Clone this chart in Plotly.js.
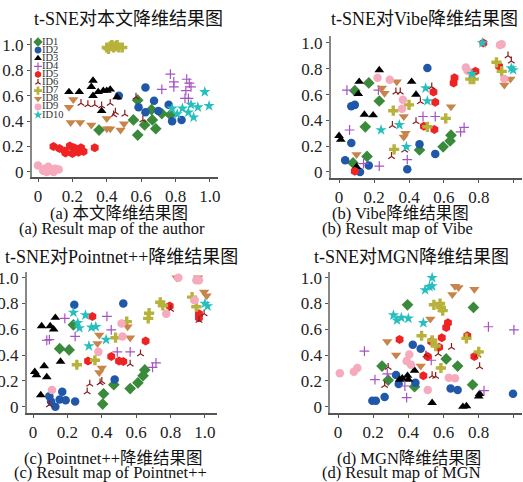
<!DOCTYPE html>
<html><head><meta charset="utf-8">
<script src="https://cdn.plot.ly/plotly-3.0.1.min.js"></script>
<style>html,body{margin:0;padding:0;background:#fff}</style>
</head><body><div id="chart" style="width:523px;height:482px"></div>
<script>
// ---------- categories / labels ----------
const ids = ["ID1","ID2","ID3","ID4","ID5","ID6","ID7","ID8","ID9","ID10"];
const tickVals = [0, 0.2, 0.4, 0.6, 0.8, 1.0];
const tickText = ["0", "0.2", "0.4", "0.6", "0.8", "1.0"];
const panelTitles = ["t-SNE对本文降维结果图", "t-SNE对Vibe降维结果图", "t-SNE对Pointnet++降维结果图", "t-SNE对MGN降维结果图"];
const captionsCN = ["(a) 本文降维结果图", "(b) Vibe降维结果图", "(c) Pointnet++降维结果图", "(d) MGN降维结果图"];
const captionsEN = ["(a) Result map of the author", "(b) Result map of Vibe", "(c) Result map of Pointnet++", "(d) Result map of MGN"];

// ---------- (a) 本文 ----------
const A_ID1 = [[0.355,0.33],[0.555,0.41],[0.58,0.565],[0.58,0.29],[0.62,0.37],[0.66,0.49],[0.665,0.41],[0.685,0.34],[0.72,0.46],[0.77,0.45]];
const A_ID2 = [[0.47,0.60],[0.625,0.665],[0.585,0.51],[0.625,0.47],[0.675,0.56],[0.70,0.48],[0.76,0.53],[0.78,0.40],[0.835,0.41]];
const A_ID3 = [[0.18,0.63],[0.24,0.63],[0.31,0.67],[0.32,0.72],[0.32,0.60],[0.35,0.63],[0.38,0.64],[0.40,0.64],[0.42,0.65],[0.46,0.59],[0.37,0.48]];
const A_ID4 = [[0.77,0.77],[0.72,0.65],[0.79,0.71],[0.79,0.67],[0.865,0.73],[0.88,0.70],[0.89,0.67],[0.86,0.64],[0.875,0.58],[0.855,0.58]];
const A_ID5 = [[0.09,0.20],[0.125,0.185],[0.155,0.165],[0.185,0.205],[0.21,0.19],[0.20,0.145],[0.16,0.15],[0.25,0.19],[0.265,0.16],[0.33,0.19],[0.235,0.155]];
const A_ID6 = [[0.25,0.54],[0.29,0.53],[0.33,0.53],[0.37,0.52],[0.42,0.54],[0.44,0.45],[0.45,0.47],[0.505,0.455],[0.57,0.59],[0.61,0.41]];
const A_ID7 = [[0.40,0.98],[0.42,0.99],[0.43,1.0],[0.44,0.98],[0.45,0.99],[0.47,0.98],[0.49,0.98],[0.41,0.97],[0.46,1.0]];
const A_ID8 = [[0.18,0.51],[0.205,0.57],[0.19,0.39],[0.245,0.39],[0.31,0.37],[0.40,0.42],[0.40,0.34],[0.42,0.34],[0.48,0.33],[0.50,0.38]];
const A_ID9 = [[0.0,0.05],[0.04,0.025],[0.06,0.04],[0.08,0.02],[0.10,0.025],[0.12,0.02],[0.05,0.0],[0.09,0.0],[0.03,0.01],[0.07,0.01]];
const A_ID10 = [[0.78,0.50],[0.81,0.455],[0.84,0.50],[0.89,0.53],[0.875,0.47],[0.905,0.43],[0.93,0.51],[0.97,0.63],[0.995,0.52]];

// ---------- (b) Vibe ----------
const B_ID1 = [[0.09,0.63],[0.17,0.69],[0.23,0.55],[0.15,0.35],[0.16,0.12],[0.08,0.07],[0.46,0.17],[0.595,0.195],[0.635,0.24],[0.64,0.285]];
const B_ID2 = [[0.505,0.805],[0.07,0.51],[0.09,0.52],[0.07,0.225],[0.035,0.09],[0.17,0.05],[0.12,0.0],[0.46,0.215],[0.55,0.14],[0.39,0.02]];
const B_ID3 = [[0.23,0.79],[0.115,0.70],[0.11,0.605],[0.145,0.445],[0.195,0.44],[0.415,0.70],[0.44,0.60],[0.0,0.28],[0.01,0.25],[0.10,0.04]];
const B_ID4 = [[0.045,0.635],[0.225,0.635],[0.06,0.325],[0.48,0.43],[0.55,0.43],[0.695,0.31],[0.715,0.345],[0.39,0.095],[0.23,0.045],[0.14,0.065]];
const B_ID5 = [[0.825,1.0],[0.915,0.82],[0.78,0.78],[0.66,0.73],[0.655,0.69],[0.54,0.62],[0.55,0.54],[0.485,0.355],[0.545,0.33],[0.09,0.005]];
const B_ID6 = [[0.966,0.90],[0.985,0.86],[0.53,0.66],[0.325,0.62],[0.35,0.62],[0.465,0.545],[0.44,0.39],[0.305,0.36],[0.375,0.17],[0.30,0.12]];
const B_ID7 = [[0.90,0.85],[0.93,0.78],[0.75,0.72],[0.77,0.72],[0.61,0.415],[0.505,0.35],[0.40,0.52],[0.31,0.475],[0.315,0.175]];
const B_ID8 = [[0.945,0.675],[0.98,0.72],[0.64,0.505],[0.33,0.70],[0.245,0.65],[0.26,0.61],[0.37,0.43],[0.38,0.30],[0.37,0.27],[0.10,0.135]];
const B_ID9 = [[0.93,0.99],[0.92,0.985],[0.725,0.81],[0.735,0.785],[0.22,0.73],[0.29,0.715],[0.365,0.56],[0.36,0.49],[0.945,0.72]];
const B_ID10 = [[0.82,1.0],[0.76,0.76],[0.985,0.805],[0.995,0.79],[0.495,0.65],[0.505,0.55],[0.345,0.365],[0.24,0.325],[0.385,0.195]];

// ---------- (c) Pointnet++ ----------
const C_ID1 = [[0.235,0.635],[0.155,0.45],[0.21,0.44],[0.65,0.285],[0.64,0.24],[0.61,0.185],[0.565,0.14],[0.47,0.17],[0.41,0.10],[0.405,0.02]];
const C_ID2 = [[0.24,0.79],[0.525,0.80],[0.095,0.08],[0.105,0.04],[0.13,0.0],[0.155,0.055],[0.19,0.05],[0.17,0.115],[0.245,0.04],[0.475,0.21]];
const C_ID3 = [[0.01,0.27],[0.02,0.245],[0.065,0.315],[0.05,0.625],[0.10,0.625],[0.12,0.60],[0.13,0.69],[0.16,0.35],[0.08,0.23],[0.045,0.09]];
const C_ID4 = [[0.185,0.685],[0.245,0.545],[0.08,0.515],[0.095,0.52],[0.43,0.70],[0.455,0.595],[0.49,0.425],[0.565,0.425],[0.695,0.305],[0.715,0.34]];
const C_ID5 = [[0.345,0.70],[0.455,0.39],[0.50,0.355],[0.525,0.35],[0.32,0.355],[0.655,0.51],[0.795,0.78],[0.965,0.72],[0.965,0.69]];
const C_ID6 = [[0.625,0.41],[0.565,0.33],[0.39,0.185],[0.40,0.195],[0.33,0.175],[0.315,0.115],[0.095,0.015],[0.965,0.67],[0.995,0.72],[0.80,0.755]];
const C_ID7 = [[0.255,0.325],[0.36,0.36],[0.48,0.535],[0.545,0.66],[0.675,0.725],[0.67,0.685],[0.74,0.81],[0.755,0.785],[0.925,0.85],[0.95,0.775]];
const C_ID8 = [[0.385,0.555],[0.375,0.49],[0.55,0.62],[0.565,0.535],[0.40,0.30],[0.385,0.265],[0.835,1.0],[0.96,1.0],[0.995,0.89],[1.01,0.86]];
const C_ID9 = [[0.11,0.13],[0.38,0.425],[0.515,0.645],[0.52,0.545],[0.775,0.72],[0.845,1.0],[0.95,0.98],[0.965,0.98],[0.94,0.825]];
const C_ID10 = [[0.235,0.73],[0.26,0.65],[0.27,0.61],[0.305,0.71],[0.34,0.615],[0.365,0.62],[0.325,0.47],[0.425,0.52],[1.0,0.80],[1.015,0.78]];

// ---------- (d) MGN ----------
const D_ID1 = [[0.395,0.79],[0.77,0.77],[0.25,0.315],[0.285,0.205],[0.435,0.155],[0.615,0.37],[0.68,0.315],[0.765,0.17]];
const D_ID2 = [[0.195,0.045],[0.215,0.045],[0.265,0.075],[0.33,0.245],[0.345,0.175],[0.425,0.48],[0.47,0.45],[0.44,0.185],[0.64,0.14],[0.68,0.13],[0.995,0.10]];
const D_ID3 = [[0.365,0.22],[0.395,0.24],[0.40,0.21],[0.435,0.28],[0.535,0.03],[0.71,0.0],[0.73,0.005],[0.80,0.08],[0.805,0.10],[0.35,0.21]];
const D_ID4 = [[0.15,0.43],[0.21,0.21],[0.28,0.255],[0.38,0.16],[0.39,0.07],[0.53,0.36],[0.855,0.62],[1.0,0.595],[0.83,0.125]];
const D_ID5 = [[0.625,0.65],[0.615,0.615],[0.35,0.52],[0.59,0.535],[0.53,0.505],[0.575,0.46],[0.51,0.39],[0.485,0.24],[0.735,0.55],[0.775,0.39]];
const D_ID6 = [[0.645,0.46],[0.57,0.41],[0.805,0.31],[0.535,0.24],[0.555,0.235],[0.285,0.305],[0.265,0.165],[0.50,0.40],[0.795,0.40]];
const D_ID7 = [[0.545,0.79],[0.58,0.80],[0.585,0.77],[0.595,0.745],[0.475,0.55],[0.535,0.515],[0.555,0.47],[0.585,0.30],[0.73,0.53],[0.80,0.425]];
const D_ID8 = [[0.665,0.935],[0.685,0.925],[0.65,0.87],[0.775,0.91],[0.525,0.68],[0.28,0.505],[0.33,0.40],[0.47,0.315]];
const D_ID9 = [[0.01,0.26],[0.09,0.27],[0.11,0.30],[0.405,0.405],[0.39,0.355],[0.415,0.325],[0.51,0.13],[0.63,0.225],[0.665,0.22]];
const D_ID10 = [[0.535,1.0],[0.535,0.935],[0.52,0.93],[0.495,0.905],[0.315,0.71],[0.335,0.67],[0.36,0.69],[0.40,0.685],[0.485,0.65]];

// ---------- styles ----------
const symbols = ['diamond','circle','triangle-up','cross-thin','hexagon','y-up','cross','triangle-down','circle','star'];
const colors  = ['#3a8a3c','#2157a8','#000000','#a553c2','#ee2424','#8a1c1c','#b6b23c','#c7844b','#f6aabd','#27bebe'];
const sizes   = [9, 8.5, 8.5, 7, 9, 5.5, 8.5, 9, 8.5, 8.5];
const openSym = [false,false,false,true,false,true,false,false,false,false];

const panels = [
  {sets:[A_ID1,A_ID2,A_ID3,A_ID4,A_ID5,A_ID6,A_ID7,A_ID8,A_ID9,A_ID10], xa:'x',  ya:'y'},
  {sets:[B_ID1,B_ID2,B_ID3,B_ID4,B_ID5,B_ID6,B_ID7,B_ID8,B_ID9,B_ID10], xa:'x2', ya:'y2'},
  {sets:[C_ID1,C_ID2,C_ID3,C_ID4,C_ID5,C_ID6,C_ID7,C_ID8,C_ID9,C_ID10], xa:'x3', ya:'y3'},
  {sets:[D_ID1,D_ID2,D_ID3,D_ID4,D_ID5,D_ID6,D_ID7,D_ID8,D_ID9,D_ID10], xa:'x4', ya:'y4'}
];

function markerFor(i, scale){
  const s = sizes[i] * (scale || 1);
  return openSym[i]
    ? {symbol:symbols[i], size:s, color:colors[i], line:{color:colors[i], width:1.2}}
    : {symbol:symbols[i], size:s, color:colors[i], line:{width:0}};
}

const traces = [];
panels.forEach(p => {
  p.sets.forEach((pts, i) => {
    traces.push({
      type:'scatter', mode:'markers', name:ids[i], xaxis:p.xa, yaxis:p.ya,
      x: pts.map(d=>d[0]), y: pts.map(d=>d[1]),
      marker: markerFor(i), hoverinfo:'skip', cliponaxis:false
    });
  });
});

// compact legend drawn inside panel (a)
ids.forEach((name, i) => {
  traces.push({
    type:'scatter', mode:'markers', xaxis:'x5', yaxis:'y5',
    x:[0], y:[i], marker: markerFor(i, 0.8), hoverinfo:'skip', cliponaxis:false
  });
  traces.push({
    type:'scatter', mode:'text', xaxis:'x5', yaxis:'y5',
    x:[4], y:[i], text:[name], textposition:'middle right',
    textfont:{family:'Liberation Serif, serif', size:10.5, color:'#333'},
    hoverinfo:'skip', cliponaxis:false
  });
});

const W = 523, H = 482;
const fontSerif = 'Liberation Serif, Noto Sans CJK SC, serif';

// titles and captions: left-aligned text on a full-page overlay (pixel units)
const titleLeft = [37, 334, 8, 317],  titleMid = [20, 20, 258, 258];
const cap1Left  = [53, 335, 27, 340], cap1Mid  = [214.5, 214.5, 460, 460];
const cap2Left  = [22, 325, 17, 325], cap2Mid  = [229.5, 229.5, 474, 474];
function textRow(texts, lefts, mids, size){
  traces.push({
    type:'scatter', mode:'text', xaxis:'x6', yaxis:'y6',
    x: lefts.map(v=>v-3), y: mids, text: texts, textposition:'middle right',
    textfont:{family:fontSerif, size:size, color:'#111'},
    hoverinfo:'skip', cliponaxis:false
  });
}
textRow(panelTitles, titleLeft, titleMid, 18);
textRow(captionsCN, cap1Left, cap1Mid, 16.5);
textRow(captionsEN, cap2Left, cap2Mid, 16.5);

function axisBase(extra){
  return Object.assign({
    showgrid:false, zeroline:false, showline:true, linewidth:2,
    ticks:'outside', ticklen:3, tickwidth:1, tickcolor:'#555',
    tickmode:'array', tickvals:tickVals, ticktext:tickText,
    tickfont:{family:fontSerif, size:17, color:'#222'}, fixedrange:true
  }, extra);
}
function px(a){ return a / W; }
function py(b){ return 1 - b / H; }

const layout = {
  width:W, height:H, margin:{l:0,r:0,t:0,b:0},
  paper_bgcolor:'#fff', plot_bgcolor:'rgba(0,0,0,0)', showlegend:false,
  xaxis:  axisBase({domain:[px(32),px(218)],  range:[-0.035,1.047], anchor:'y',  linecolor:'#555'}),
  yaxis:  axisBase({domain:[py(177),py(38)],  range:[-0.04,1.055],  anchor:'x',  linecolor:'#888'}),
  xaxis2: axisBase({domain:[px(331),px(522)], range:[-0.046,1.046], anchor:'y2', linecolor:'#555'}),
  yaxis2: axisBase({domain:[py(178),py(36)],  range:[-0.047,1.054], anchor:'x2', linecolor:'#888'}),
  xaxis3: axisBase({domain:[px(27),px(217)],  range:[-0.035,1.07],  anchor:'y3', linecolor:'#555'}),
  yaxis3: axisBase({domain:[py(412.7),py(271.7)], range:[-0.047,1.047], anchor:'x3', linecolor:'#888'}),
  xaxis4: axisBase({domain:[px(330.3),px(522)], range:[-0.044,1.046], anchor:'y4', linecolor:'#555'}),
  yaxis4: axisBase({domain:[py(412.7),py(271.7)], range:[-0.047,1.047], anchor:'x4', linecolor:'#888'}),
  xaxis5: {domain:[px(35),px(85)], range:[-3,47], anchor:'y5', visible:false, fixedrange:true},
  yaxis5: {domain:[py(119.05),py(37.95)], range:[9.5,-0.5], anchor:'x5', visible:false, fixedrange:true},
  xaxis6: {domain:[0,1], range:[0,W], anchor:'y6', visible:false, fixedrange:true},
  yaxis6: {domain:[0,1], range:[H,0], anchor:'x6', visible:false, fixedrange:true}
};

Plotly.newPlot('chart', traces, layout, {staticPlot:true, displayModeBar:false});
</script>
</body></html>
